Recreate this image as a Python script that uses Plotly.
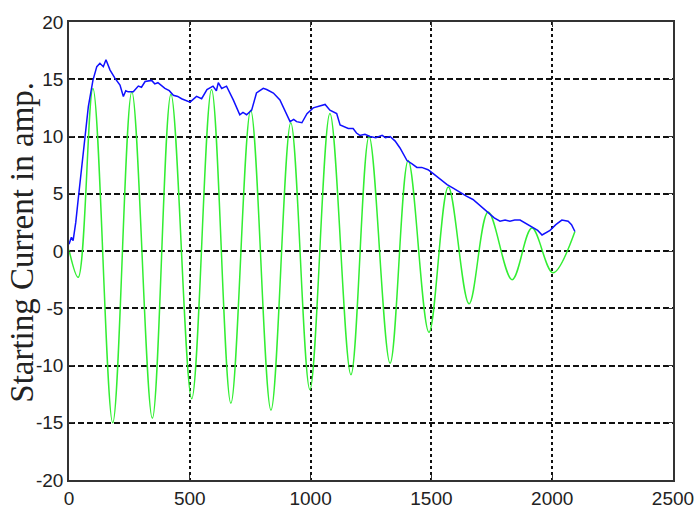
import plotly.graph_objects as go

# Green: instantaneous starting current (extrema)
green_x = [0, 38, 99, 181, 260, 345, 422, 508, 590, 670, 752, 836, 918, 997,
           1080, 1167, 1242, 1329, 1404, 1490, 1570, 1656, 1735, 1834, 1916, 2003, 2094]
green_y = [0.1, -2.3, 14.2, -15.0, 13.9, -14.6, 13.7, -12.9, 14.1, -13.3, 12.3, -13.9, 11.2, -12.1,
           12.0, -10.8, 10.0, -9.8, 7.9, -7.1, 5.6, -4.6, 3.4, -2.5, 2.0, -1.9, 1.7]

# Blue: envelope (peak current)
blue_x = [0, 10, 17, 28, 38, 53, 66, 80, 99, 115, 128, 142, 153, 170, 190, 211, 225, 235,
          245, 266, 287, 300, 315, 342, 355, 368, 397, 415, 432, 450, 466, 490, 501, 528,
          549, 571, 596, 610, 618, 632, 652, 680, 707, 720, 735, 756, 776, 790, 804, 818,
          846, 873, 894, 915, 930, 942, 964, 985, 1011, 1039, 1060, 1080, 1108, 1122, 1135,
          1156, 1176, 1190, 1204, 1225, 1246, 1270, 1296, 1310, 1329, 1350, 1370, 1385, 1399,
          1420, 1440, 1460, 1486, 1505, 1523, 1545, 1565, 1590, 1619, 1645, 1672, 1700, 1734,
          1760, 1784, 1805, 1825, 1845, 1867, 1890, 1916, 1940, 1958, 1975, 1991, 2015,
          2040, 2066, 2080, 2094]
blue_y = [0.6, 1.2, 0.9, 2.5, 4.5, 7.3, 10.3, 12.6, 14.9, 16.1, 16.4, 16.1, 16.7, 15.8,
          15.1, 14.5, 13.5, 14.0, 13.9, 13.9, 14.4, 14.3, 14.8, 14.9, 14.6, 14.7, 14.2, 14.0,
          13.6, 13.5, 13.3, 13.1, 13.0, 13.5, 13.3, 14.1, 14.4, 14.0, 14.7, 14.2, 14.4, 13.2,
          11.9, 12.1, 11.9, 12.3, 13.8, 14.0, 14.2, 14.1, 13.8, 13.2, 12.3, 11.3, 11.5,
          11.3, 11.2, 12.0, 12.5, 12.7, 12.8, 12.3, 12.0, 11.0, 10.9, 10.7, 10.7, 10.3,
          10.1, 10.2, 10.0, 9.9, 10.1, 9.9, 10.0, 9.6, 9.0, 8.4, 7.9, 7.6, 7.3, 7.3, 7.1,
          6.8, 6.5, 6.1, 5.8, 5.5, 5.1, 4.8, 4.5, 4.0, 3.4, 2.9, 2.6, 2.7, 2.6, 2.7, 2.7,
          2.4, 2.1, 1.8, 1.4, 1.6, 1.8, 2.3, 2.7, 2.6, 2.3, 1.7]

x_ticks = [0, 500, 1000, 1500, 2000, 2500]
y_ticks = [-20, -15, -10, -5, 0, 5, 10, 15, 20]
y_label = "Starting Current in amp."

fig = go.Figure()
fig.add_trace(go.Scatter(x=green_x, y=green_y, mode="lines",
                         line=dict(color="#33ee33", width=1.5, shape="spline", smoothing=1.0),
                         showlegend=False, hoverinfo="skip"))
fig.add_trace(go.Scatter(x=blue_x, y=blue_y, mode="lines",
                         line=dict(color="#1010ff", width=1.5),
                         showlegend=False, hoverinfo="skip"))

tickfont = dict(family="Liberation Sans, Arial", size=19, color="#222222")

fig.update_layout(
    width=697, height=511,
    margin=dict(l=69, r=24, t=22, b=31),
    paper_bgcolor="white", plot_bgcolor="white",
    xaxis=dict(range=[0, 2500], tickvals=x_ticks, ticktext=[str(v) for v in x_ticks],
               showgrid=True, gridcolor="#111111", gridwidth=1.5, griddash="3px,3px",
               showline=True, linecolor="#333333", linewidth=1.5, mirror="ticks",
               ticks="inside", ticklen=5, tickcolor="#333333", tickfont=tickfont,
               ticklabeloverflow="allow", ticklabelstandoff=0, automargin=False,
               zeroline=False, fixedrange=True),
    yaxis=dict(range=[-20, 20], tickvals=y_ticks, ticktext=[str(v) for v in y_ticks],
               showgrid=True, gridcolor="#111111", gridwidth=1.5, griddash="6px,3px",
               showline=True, linecolor="#333333", linewidth=1.5, mirror="ticks",
               ticks="inside", ticklen=5, tickcolor="#333333", tickfont=tickfont,
               ticklabeloverflow="allow", automargin=False,
               zeroline=False, fixedrange=True),
    annotations=[dict(text=y_label, xref="paper", yref="paper",
                      x=-0.078, y=0.52, textangle=-90, showarrow=False,
                      xanchor="center", yanchor="middle",
                      font=dict(family="Liberation Serif, Times New Roman, serif", size=33, color="#222222"))],
)

fig.write_html("out.html")
